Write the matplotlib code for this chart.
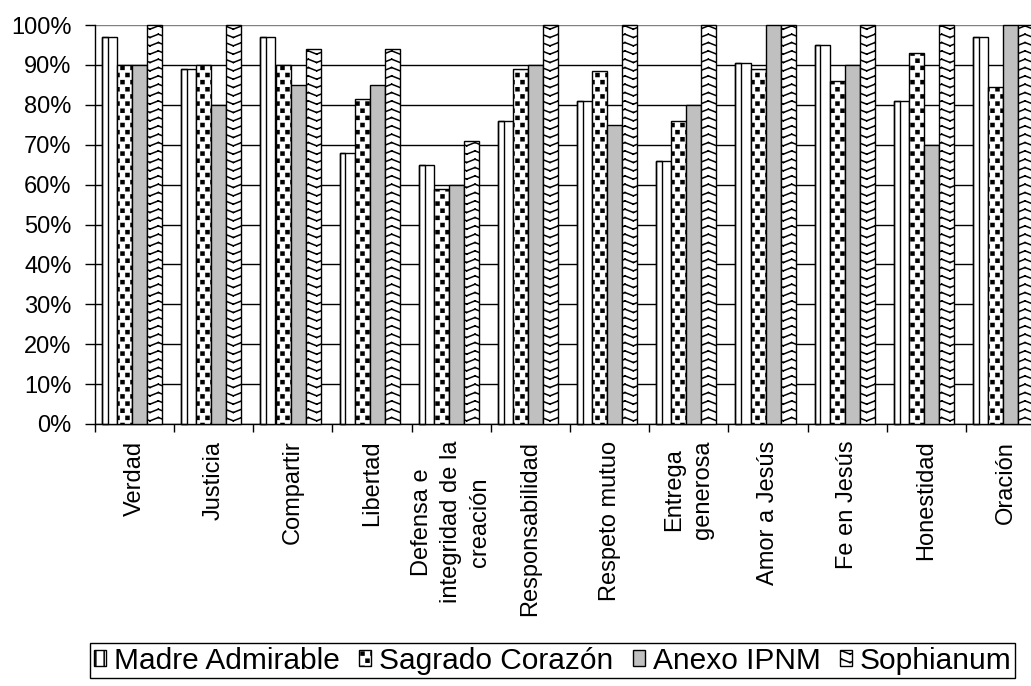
import warnings
warnings.filterwarnings('ignore')
import numpy as np
import matplotlib
matplotlib.use('Agg')
import matplotlib.pyplot as plt
import matplotlib.hatch as mhatch
from matplotlib.path import Path
from matplotlib.patches import Patch

# ---------------- data ----------------
categories = ['Verdad', 'Justicia', 'Compartir', 'Libertad',
              'Defensa e\nintegridad de la\ncreación', 'Responsabilidad',
              'Respeto mutuo', 'Entrega\ngenerosa', 'Amor a Jesús',
              'Fe en Jesús', 'Honestidad', 'Oración']
madre_admirable = [97, 89, 97, 68, 65, 76, 81, 66, 90.5, 95, 81, 97]
sagrado_corazon = [90, 90, 90, 81.5, 59, 89, 88.5, 76, 89, 86, 93, 84.5]
anexo_ipnm = [90, 80, 85, 85, 60, 90, 75, 80, 100, 90, 70, 100]
sophianum = [100, 100, 94, 94, 71, 100, 100, 100, 100, 100, 100, 100]
series_names = ['Madre Admirable', 'Sagrado Corazón', 'Anexo IPNM', 'Sophianum']
y_ticks = list(range(0, 101, 10))
y_tick_labels = [f'{t}%' for t in y_ticks]


# ---------------- custom hatch styles ----------------
class WaveHatch(mhatch.HatchPatternBase):
    def __init__(self, hatch, density):
        n = hatch.count('w')
        self.num_rows = int(n * density)
        self.num_cols = int(n * density / 2)
        self.num_vertices = self.num_rows * self.num_cols * 4

    def set_vertices_and_codes(self, vertices, codes):
        if self.num_vertices == 0:
            return
        rows = (np.arange(self.num_rows) + 0.5) / self.num_rows
        cols = np.arange(self.num_cols) / self.num_cols
        p = 1.0 / self.num_cols
        a = 0.033
        k = 0
        for yy in rows:
            for xx in cols:
                vertices[k] = (xx, yy)
                vertices[k + 1] = (xx + p / 2, yy + a)
                vertices[k + 2] = (xx + p / 2, yy + a)
                vertices[k + 3] = (xx + p, yy)
                codes[k] = Path.MOVETO
                codes[k + 1] = Path.LINETO
                codes[k + 2] = Path.MOVETO
                codes[k + 3] = Path.LINETO
                k += 4


class SquareDots(mhatch.HatchPatternBase):
    def __init__(self, hatch, density):
        n = hatch.count('s')
        self.num_rows = 7 * n
        self.num_cols = 5 * n
        self.num_vertices = self.num_rows * self.num_cols * 5

    def set_vertices_and_codes(self, vertices, codes):
        if self.num_vertices == 0:
            return
        s = 0.015
        k = 0
        for i in range(self.num_rows):
            yy = (i + 0.5) / self.num_rows
            shift = 0.25 if i % 2 == 0 else 0.75
            for j in range(self.num_cols):
                xx = (j + shift) / self.num_cols
                vertices[k:k + 5] = [(xx - s, yy - s), (xx + s, yy - s),
                                     (xx + s, yy + s), (xx - s, yy + s),
                                     (xx - s, yy - s)]
                codes[k:k + 5] = [Path.MOVETO, Path.LINETO, Path.LINETO,
                                  Path.LINETO, Path.CLOSEPOLY]
                k += 5


mhatch._hatch_types.extend([WaveHatch, SquareDots])

plt.rcParams['font.family'] = ['Liberation Sans', 'DejaVu Sans']
plt.rcParams['hatch.linewidth'] = 1.1

fig = plt.figure(figsize=(10.31, 6.86), dpi=100)
ax = fig.add_axes([95 / 1031, 1 - 424 / 686, 950 / 1031, 399 / 686])

x = np.arange(len(categories))
w = 0.19
shift = -0.03
series = [madre_admirable, sagrado_corazon, anexo_ipnm, sophianum]
styles = [dict(facecolor='white'),
          dict(facecolor='white', hatch='ss'),
          dict(facecolor='#c0c0c0'),
          dict(facecolor='white', hatch='ww')]
for k, (vals, st) in enumerate(zip(series, styles)):
    ax.bar(x + (k - 1.5) * w + shift, vals, w, edgecolor='black', linewidth=1.0,
           zorder=3, clip_on=False, **st)
# inner vertical line of the "Madre Admirable" bars
ax.bar(x - 1.5 * w + shift - w / 2, madre_admirable, w * 0.38, align='edge',
       facecolor='none', edgecolor='black', linewidth=1.0, zorder=4, clip_on=False)

ax.set_xlim(-0.5, 11.5)
ax.set_ylim(0, 100)
ax.set_yticks(y_ticks)
ax.set_yticklabels(y_tick_labels, fontsize=17)
ax.yaxis.grid(True, color='black', linewidth=1.0, zorder=0)
ax.set_axisbelow(True)
ax.yaxis.get_gridlines()[-1].set_color('#808080')
ax.tick_params(axis='y', direction='out', length=7, width=1, pad=10, colors='black')

ax.set_xticks(x)
ax.set_xticklabels(categories, rotation=90, ha='center', va='top',
                   multialignment='center', fontsize=17, linespacing=1.4)
ax.tick_params(axis='x', which='major', length=0, pad=12)
ax.set_xticks(np.arange(-0.5, 12, 1), minor=True)
ax.tick_params(axis='x', which='minor', direction='out', length=6, width=1)

for sp in ['top', 'right']:
    ax.spines[sp].set_visible(False)
for sp in ['left', 'bottom']:
    ax.spines[sp].set_color('black')
    ax.spines[sp].set_linewidth(1.0)

handles = [Patch(facecolor='white', edgecolor='black', hatch='||', label=series_names[0]),
           Patch(facecolor='white', edgecolor='black', hatch='ss', label=series_names[1]),
           Patch(facecolor='#c0c0c0', edgecolor='black', label=series_names[2]),
           Patch(facecolor='white', edgecolor='black', hatch='ww', label=series_names[3])]
leg = fig.legend(handles=handles, loc='upper left',
                 bbox_to_anchor=(90 / 1031, 1 - 643 / 686),
                 ncol=4, frameon=True, fancybox=False, edgecolor='black',
                 framealpha=1, fontsize=21.5, handlelength=0.42,
                 handleheight=0.42, handletextpad=0.25, columnspacing=0.65,
                 borderpad=0.12, borderaxespad=0)
leg.get_frame().set_linewidth(1.0)

fig.savefig('out.png', dpi=100)
